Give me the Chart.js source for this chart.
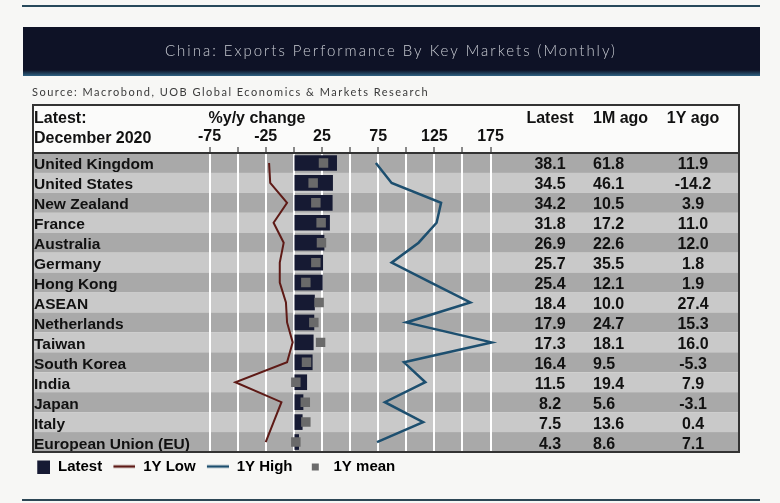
<!DOCTYPE html>
<html>
<head>
<meta charset="utf-8">
<title>China: Exports Performance By Key Markets (Monthly)</title>
<script src="https://cdn.jsdelivr.net/npm/chart.js@4.4.1/dist/chart.umd.min.js"></script>
<style>
  html, body { margin: 0; padding: 0; background: #f7f7f5; }
  canvas { display: block; }
</style>
</head>
<body>
<canvas id="exportsChart" width="780" height="503"></canvas>
<script>
// data (%y/y)
const countries = ['United Kingdom', 'United States', 'New Zealand', 'France', 'Australia', 'Germany',
  'Hong Kong', 'ASEAN', 'Netherlands', 'Taiwan', 'South Korea', 'India', 'Japan', 'Italy', 'European Union (EU)'];
const latest   = [38.1, 34.5, 34.2, 31.8, 26.9, 25.7, 25.4, 18.4, 17.9, 17.3, 16.4, 11.5, 8.2, 7.5, 4.3];
const monthAgo = [61.8, 46.1, 10.5, 17.2, 22.6, 35.5, 12.1, 10.0, 24.7, 18.1, 9.5, 19.4, 5.6, 13.6, 8.6];
const yearAgo  = [11.9, -14.2, 3.9, 11.0, 12.0, 1.8, 1.9, 27.4, 15.3, 16.0, -5.3, 7.9, -3.1, 0.4, 7.1];
const low1Y    = [-22, -21, -6, -18, -9, -12.5, -12.5, -7, -6, -1, -6, -52, -11, -18, -25];
const high1Y   = [73, 87, 131, 127, 111, 87, 122, 157, 100, 176, 98, 117, 81, 115, 74];
const mean1Y   = [26.4, 17.2, 19.6, 24.3, 24.6, 19.6, 10.7, 22.5, 17.8, 23.8, 11.3, 1.8, 10.2, 10.7, 1.8];

const xTickValues = [-75, -50, -25, 0, 25, 50, 75, 100, 125, 150, 175];
const xTickLabels = ['-75', '', '-25', '', '25', '', '75', '', '125', '', '175'];
const columnHeads = ['Latest', '1M ago', '1Y ago'];
const legendNames = ['Latest', '1Y Low', '1Y High', '1Y mean'];

const titleText = 'China: Exports Performance By Key Markets (Monthly)';
const sourceText = 'Source: Macrobond, UOB Global Economics & Markets Research';

const NAVY = '#161a33';
const LOW_RED = '#5e1a16';
const HIGH_BLUE = '#1d4f6f';
const MEAN_GREY = '#6a6a6a';
const SANS = '"Liberation Sans", Arial, sans-serif';

// text squeezed/stretched to the width it has in the picture
function spacedText(ctx, text, x, y, width) {
  ctx.letterSpacing = '0px';
  const w = ctx.measureText(text).width;
  ctx.letterSpacing = ((width - w) / text.length).toFixed(2) + 'px';
  ctx.fillText(text, x, y);
  ctx.letterSpacing = '0px';
}

function legendIcon(draw) {
  const c = document.createElement('canvas');
  c.width = 26;
  c.height = 14;
  draw(c.getContext('2d'));
  return c;
}

const icons = [
  legendIcon(g => { g.fillStyle = NAVY; g.fillRect(13, 1, 13, 13); }),
  legendIcon(g => { g.strokeStyle = LOW_RED; g.lineWidth = 2.5; g.beginPath(); g.moveTo(4, 7); g.lineTo(26, 7); g.stroke(); }),
  legendIcon(g => { g.strokeStyle = HIGH_BLUE; g.lineWidth = 2.5; g.beginPath(); g.moveTo(4, 7); g.lineTo(26, 7); g.stroke(); }),
  legendIcon(g => { g.fillStyle = MEAN_GREY; g.fillRect(12, 4, 7, 7); })
];

const tableDecor = {
  id: 'tableDecor',
  beforeDraw(chart) {
    const { ctx, chartArea: a } = chart;
    const y = chart.scales.y;
    ctx.save();
    ctx.fillStyle = '#f7f7f5';
    ctx.fillRect(0, 0, chart.width, chart.height);

    // top rule + title band
    ctx.fillStyle = '#27495b';
    ctx.fillRect(22, 5, 738, 2);
    ctx.fillStyle = '#0e1226';
    ctx.fillRect(23, 27, 737, 49);
    const g = ctx.createLinearGradient(0, 70, 0, 76);
    g.addColorStop(0, '#0e1226');
    g.addColorStop(1, '#2f6283');
    ctx.fillStyle = g;
    ctx.fillRect(23, 70, 737, 6);

    ctx.fillStyle = '#c9ccd3';
    ctx.font = '300 15px Lato, sans-serif';
    ctx.textBaseline = 'alphabetic';
    ctx.textAlign = 'left';
    spacedText(ctx, titleText, 165, 56, 452);

    ctx.fillStyle = '#3a3a3a';
    ctx.font = '11px Lato, sans-serif';
    spacedText(ctx, sourceText, 32, 96, 397);

    // header cell
    ctx.fillStyle = '#fbfbfa';
    ctx.fillRect(33, 105, a.right - 33, a.top - 105);

    // alternating row bands
    const half = (y.getPixelForValue(1) - y.getPixelForValue(0)) / 2;
    countries.forEach((c, i) => {
      const cy = y.getPixelForValue(i);
      ctx.fillStyle = i % 2 ? '#c9c9c9' : '#a9a9a9';
      ctx.fillRect(a.left, cy - half, a.right - a.left, half * 2);
    });
    ctx.restore();
  },
  afterDraw(chart) {
    const { ctx, chartArea: a } = chart;
    const y = chart.scales.y;
    ctx.save();
    ctx.fillStyle = '#111';
    ctx.textBaseline = 'alphabetic';

    // header texts
    ctx.font = 'bold 16px ' + SANS;
    ctx.textAlign = 'left';
    ctx.fillText('Latest:', 34, 123);
    ctx.fillText('December 2020', 34, 143);
    ctx.textAlign = 'center';
    ctx.fillText('%y/y change', 257, 123);
    ctx.fillText(columnHeads[0], 550, 123);
    ctx.textAlign = 'left';
    ctx.fillText(columnHeads[1], 593, 123);
    ctx.textAlign = 'center';
    ctx.fillText(columnHeads[2], 693, 123);

    // rows
    countries.forEach((c, i) => {
      const cy = y.getPixelForValue(i) + 6.5;
      ctx.font = 'bold 15.5px ' + SANS;
      ctx.textAlign = 'left';
      ctx.fillText(c, 34, cy);
      ctx.font = 'bold 16px ' + SANS;
      ctx.textAlign = 'center';
      ctx.fillText(latest[i].toFixed(1), 550, cy);
      ctx.textAlign = 'left';
      ctx.fillText(monthAgo[i].toFixed(1), 593, cy);
      ctx.textAlign = 'center';
      ctx.fillText(yearAgo[i].toFixed(1), 693, cy);
    });

    // table frame + bottom rule
    ctx.strokeStyle = '#333';
    ctx.lineWidth = 2;
    ctx.strokeRect(33, 105, a.right - 33, a.bottom - 105);
    ctx.fillStyle = '#2d4755';
    ctx.fillRect(22, 499, 738, 2);
    ctx.restore();
  }
};

const ctx = document.getElementById('exportsChart');

new Chart(ctx, {
  type: 'bar',
  data: {
    labels: countries,
    datasets: [
      {
        type: 'line',
        label: legendNames[3],
        data: mean1Y,
        indexAxis: 'y',
        showLine: false,
        pointStyle: 'rect',
        pointRadius: 6.7,
        pointBorderWidth: 0,
        pointBackgroundColor: MEAN_GREY,
        borderColor: MEAN_GREY,
        order: 1
      },
      {
        type: 'line',
        label: legendNames[1],
        data: low1Y,
        indexAxis: 'y',
        borderColor: LOW_RED,
        borderWidth: 2,
        pointRadius: 0,
        tension: 0,
        order: 2
      },
      {
        type: 'line',
        label: legendNames[2],
        data: high1Y,
        indexAxis: 'y',
        borderColor: HIGH_BLUE,
        borderWidth: 2.5,
        pointRadius: 0,
        tension: 0,
        order: 3
      },
      {
        label: legendNames[0],
        data: latest,
        indexAxis: 'y',
        backgroundColor: NAVY,
        borderWidth: 0,
        barThickness: 15,
        order: 4
      }
    ]
  },
  options: {
    indexAxis: 'y',
    responsive: false,
    animation: false,
    layout: { padding: { left: 17, right: 41, top: 105, bottom: 19 } },
    scales: {
      x: {
        position: 'top',
        min: -232,
        max: 396,
        afterBuildTicks: s => { s.ticks = xTickValues.map(v => ({ value: v })); },
        afterFit: s => { s.height = 48; },
        grid: { color: '#ffffff', lineWidth: 2, drawTicks: true, tickLength: 6, tickColor: '#8a8a8a' },
        border: { display: true, color: '#333', width: 2 },
        ticks: {
          padding: 1,
          color: '#111',
          font: { family: SANS, size: 16, weight: 'bold' },
          callback: (v, i) => xTickLabels[i]
        }
      },
      y: {
        type: 'category',
        afterFit: s => { s.width = 16; },
        grid: { display: false },
        border: { display: false },
        ticks: { display: false }
      }
    },
    plugins: {
      tooltip: { enabled: false },
      legend: {
        position: 'bottom',
        align: 'start',
        labels: {
          usePointStyle: true,
          pointStyleWidth: 26.5,
          padding: 7,
          color: '#111',
          font: { family: SANS, size: 15, weight: 'bold' },
          generateLabels: () => legendNames.map((name, i) => ({
            text: name,
            pointStyle: icons[i],
            fillStyle: 'transparent',
            strokeStyle: 'transparent',
            lineWidth: 0,
            hidden: false,
            datasetIndex: [3, 1, 2, 0][i]
          }))
        }
      }
    }
  },
  plugins: [tableDecor]
});
</script>
</body>
</html>
